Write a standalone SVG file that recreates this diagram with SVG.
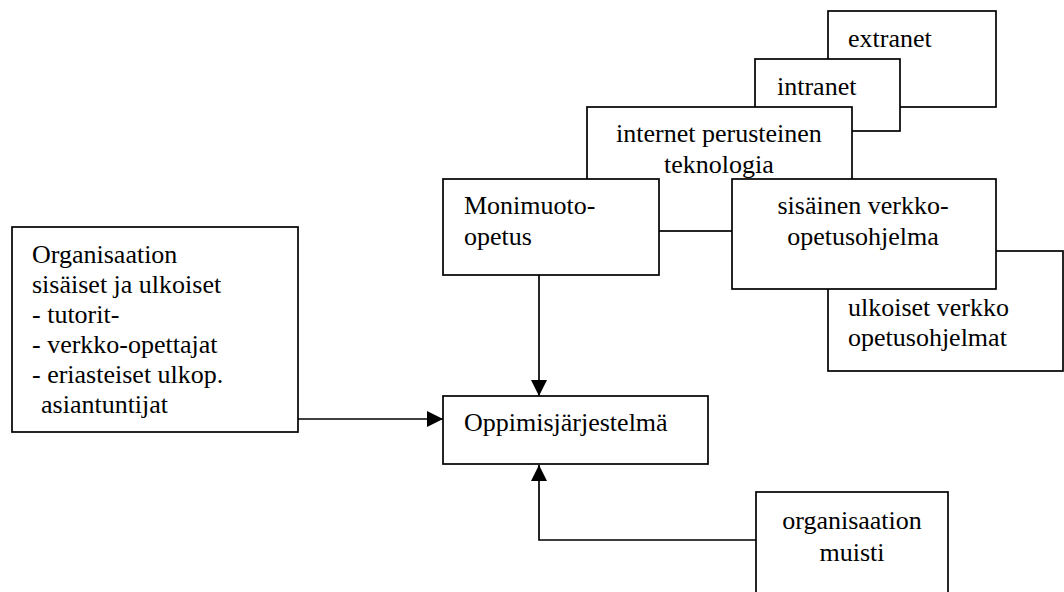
<svg xmlns="http://www.w3.org/2000/svg" width="1064" height="592" viewBox="0 0 1064 592">
  <style>
    .box { fill: #fff; stroke: #000; stroke-width: 1.7; }
    .lbl { font-family: "Liberation Serif", "Times New Roman", serif; font-size: 26px; fill: #000; }
    .mid { text-anchor: middle; }
    .wire { fill: none; stroke: #000; stroke-width: 1.7; }
  </style>
  <defs>
    <marker id="head" viewBox="0 0 16 16" refX="16" refY="8" markerWidth="16" markerHeight="16" markerUnits="userSpaceOnUse" orient="auto">
      <path d="M0,0 L16,8 L0,16 Z" fill="#000"/>
    </marker>
  </defs>

  <rect width="1064" height="592" fill="#fff"/>

  <!-- stacked network technology boxes, back to front -->
  <g id="extranet">
    <rect class="box" x="828" y="11" width="168" height="96"/>
    <text class="lbl" x="848" y="47">extranet</text>
  </g>
  <g id="intranet">
    <rect class="box" x="755" y="59" width="145" height="72"/>
    <text class="lbl" x="777" y="95">intranet</text>
  </g>
  <g id="internet">
    <rect class="box" x="587" y="107" width="265" height="124"/>
    <text class="lbl mid" x="719" y="142">internet perusteinen</text>
    <text class="lbl mid" x="719" y="173">teknologia</text>
  </g>

  <g id="ulkoiset">
    <rect class="box" x="828" y="251" width="235" height="120"/>
    <text class="lbl" x="848" y="316">ulkoiset verkko</text>
    <text class="lbl" x="848" y="346">opetusohjelmat</text>
  </g>

  <g id="monimuoto">
    <rect class="box" x="443" y="179" width="216" height="96"/>
    <text class="lbl" x="464" y="214">Monimuoto-</text>
    <text class="lbl" x="464" y="245">opetus</text>
  </g>

  <g id="sisainen">
    <rect class="box" x="732" y="179" width="264" height="110"/>
    <text class="lbl mid" x="863" y="214">sisäinen verkko-</text>
    <text class="lbl mid" x="863" y="245">opetusohjelma</text>
  </g>

  <g id="organisaatio">
    <rect class="box" x="12" y="227" width="286" height="205"/>
    <text class="lbl" x="32" y="263">Organisaation</text>
    <text class="lbl" x="32" y="293">sisäiset ja ulkoiset</text>
    <text class="lbl" x="32" y="323">- tutorit-</text>
    <text class="lbl" x="32" y="353">- verkko-opettajat</text>
    <text class="lbl" x="32" y="383">- eriasteiset ulkop.</text>
    <text class="lbl" x="41" y="413">asiantuntijat</text>
  </g>

  <g id="oppimisjarjestelma">
    <rect class="box" x="443" y="396" width="265" height="68"/>
    <text class="lbl" x="464" y="431">Oppimisjärjestelmä</text>
  </g>

  <g id="muisti">
    <rect class="box" x="756" y="492" width="192" height="110"/>
    <text class="lbl mid" x="852" y="529">organisaation</text>
    <text class="lbl mid" x="852" y="561">muisti</text>
  </g>

  <g id="connectors">
    <path class="wire" d="M539,275 L539,396" marker-end="url(#head)"/>
    <path class="wire" d="M298,419 L443,419" marker-end="url(#head)"/>
    <path class="wire" d="M756,540 L539,540 L539,465" marker-end="url(#head)"/>
  </g>
</svg>
